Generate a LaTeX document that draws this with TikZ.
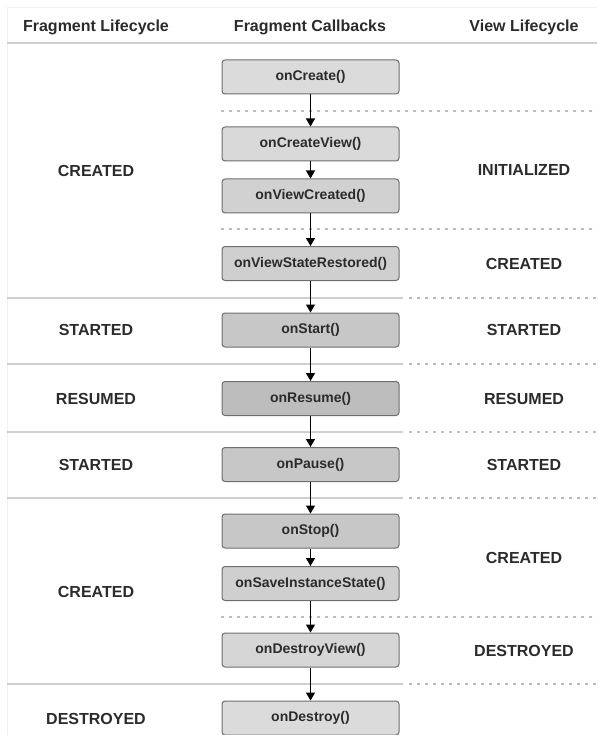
\documentclass[tikz,border=0pt]{standalone}
\usepackage{fontspec}
\setmainfont{Liberation Sans}
\usepackage{xcolor}
\usepackage{tikz}
\usetikzlibrary{arrows.meta}

\definecolor{txt}{HTML}{2B2B2B}
\definecolor{rule}{HTML}{CFCFCF}
\definecolor{dotc}{HTML}{BDBDBD}
\definecolor{edge}{HTML}{6E6E6E}

\tikzset{
  callback/.style={draw=edge,line width=1pt,rounded corners=3pt,minimum width=177pt,
    minimum height=34pt,inner sep=0pt,text=txt,font=\fontsize{14}{16}\selectfont\bfseries},
  state/.style={text=txt,font=\fontsize{16}{19}\selectfont\bfseries},
  flow/.style={-{Triangle[width=9pt,length=8pt]},line width=1.2pt,black},
  sep/.style={draw=rule,line width=1.3pt},
  dots/.style={draw=dotc,line width=1.2pt,dash pattern=on 3pt off 5pt},
}

\begin{document}
\begin{tikzpicture}[x=1pt,y=-1pt]
\useasboundingbox (0,0) rectangle (597,735);

% frame and header
\draw[black!6,line width=1pt](7,8)--(597,8);
\draw[black!6,line width=1pt](7,8)--(7,735);
\draw[sep](7,43)--(597,43);
\node[state] (hfrag) at (96,27){Fragment Lifecycle};
\node[state] (hcall) at (310,27){Fragment Callbacks};
\node[state] (hview) at (524,27){View Lifecycle};

% separators
\foreach\y in{298,364,432,498,684}{
  \draw[sep](7,\y)--(403,\y);
  \draw[dots](409,\y)--(597,\y);
}
\foreach\y in{111,229,617}{\draw[dots](221,\y)--(597,\y);}

% callbacks
\foreach\nm/\y/\s/\txt in{create/77/14/onCreate(),
  createview/144/15/onCreateView(),
  viewcreated/196/18/onViewCreated(),
  restored/263.5/19/onViewStateRestored(),
  start/330/22/onStart(),
  resume/398.5/26/onResume(),
  pause/464.5/22/onPause(),
  stop/531/22/onStop(),
  save/583.5/19/onSaveInstanceState(),
  destroyview/650/16/onDestroyView(),
  destroy/718/14/onDestroy()}{
  \node[callback,fill=black!\s] (\nm) at (310.5,\y){\txt};
}
\foreach\a/\b in{create/createview,createview/viewcreated,viewcreated/restored,
  restored/start,start/resume,resume/pause,pause/stop,stop/save,
  save/destroyview,destroyview/destroy}{
  \draw[flow](\a)--(\b);
}

% states
\foreach\txt/\y[count=\i] in{CREATED/171,STARTED/330,RESUMED/398.5,STARTED/464.5,
  CREATED/592,DESTROYED/719}{\node[state] (frag\i) at (96,\y){\txt};}
\foreach\txt/\y[count=\i] in{INITIALIZED/170,CREATED/263.5,STARTED/330,RESUMED/398.5,
  STARTED/464.5,CREATED/558,DESTROYED/651}{\node[state] (view\i) at (524,\y){\txt};}
\end{tikzpicture}
\end{document}
